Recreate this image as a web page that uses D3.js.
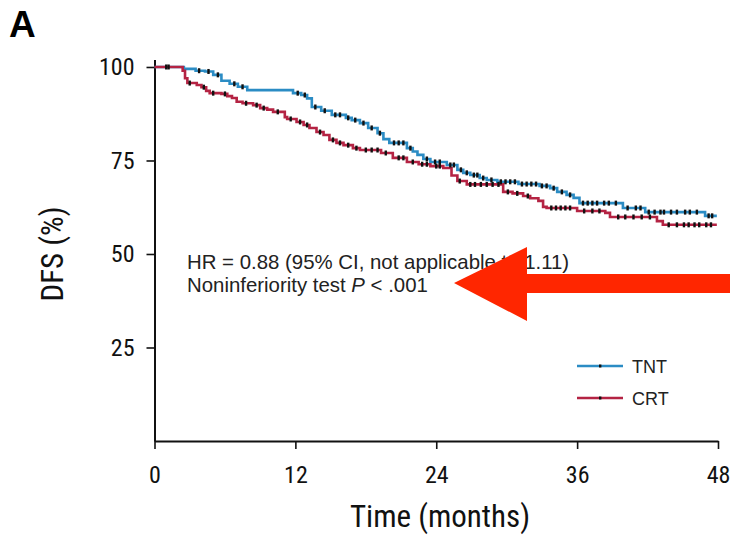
<!DOCTYPE html>
<html>
<head>
<meta charset="utf-8">
<script src="https://cdn.jsdelivr.net/npm/d3@7/dist/d3.min.js"></script>
<style>
  html, body { margin: 0; padding: 0; background: #fff; }
  svg { display: block; }
  .cond { font-family: "Liberation Sans Narrow", "Roboto Condensed", "DejaVu Sans Condensed", sans-serif; }
  .reg { font-family: "Liberation Sans", Arial, Helvetica, sans-serif; }
</style>
</head>
<body>
<svg id="chart" width="730" height="536"></svg>
<script>
// Kaplan–Meier disease-free survival, step points: [month, DFS %] after each event
const tntSteps = [
  [0, 100], [2.5, 99.5], [3.5, 99.0], [4.3, 98.8], [5.0, 97.9], [5.7, 96.3], [6.4, 95.5],
  [7.1, 94.7], [7.9, 93.8], [11.8, 93.0], [12.5, 92.5], [13.0, 91.6], [13.4, 89.3],
  [14.2, 88.3], [15.1, 87.2], [16.3, 86.4], [16.8, 85.8], [17.5, 85.0], [18.2, 83.7],
  [19.0, 82.3], [19.5, 80.7], [20.0, 79.7], [21.5, 78.3], [22.0, 77.4], [22.4, 76.5],
  [22.9, 75.4], [23.5, 74.6], [24.9, 73.8], [25.8, 72.5], [26.3, 71.7], [26.9, 71.1],
  [27.7, 70.3], [28.3, 69.8], [29.2, 69.3], [31.0, 68.7], [32.8, 68.2], [33.7, 67.6],
  [34.3, 66.6], [35.1, 65.8], [35.7, 65.0], [36.2, 63.6], [39.9, 62.3], [41.8, 61.2],
  [46.9, 60.2], [47.9, 60.2]
];
const crtSteps = [
  [0, 100], [2.4, 99.0], [2.6, 97.0], [2.8, 95.7], [3.6, 95.2], [4.0, 94.6], [4.4, 93.6],
  [4.7, 93.0], [5.7, 92.8], [6.2, 92.2], [6.6, 91.7], [7.0, 90.7], [7.5, 90.3], [8.4, 89.8],
  [9.0, 89.0], [9.6, 88.6], [10.1, 88.0], [11.1, 86.6], [11.3, 86.1], [12.1, 85.3],
  [12.7, 84.5], [13.2, 83.7], [13.8, 82.6], [14.4, 81.8], [14.9, 80.5], [15.5, 79.7],
  [16.1, 79.1], [16.9, 78.3], [17.5, 77.8], [19.3, 77.0], [20.3, 75.7], [21.5, 74.6],
  [22.5, 74.0], [23.5, 73.5], [24.6, 73.0], [25.3, 71.0], [25.8, 69.5], [26.6, 68.6],
  [29.7, 66.6], [30.5, 66.2], [31.4, 65.5], [32.0, 64.9], [32.7, 64.2], [33.1, 62.6],
  [33.4, 62.3], [36.0, 61.5], [38.4, 61.0], [38.8, 59.9], [42.8, 58.8], [43.3, 57.8],
  [47.9, 57.8]
];

// Censoring times (months)
const tntCensor = [1.0, 3.8, 4.6, 5.4, 6.8, 7.5, 12.2, 12.8, 13.7, 14.5, 15.4, 15.8, 16.5,
  17.1, 17.8, 18.5, 19.2, 20.4, 20.8, 21.2, 21.8, 23.2, 23.9, 24.3, 25.2, 25.5, 26.1, 26.6,
  27.2, 27.5, 28.0, 28.7, 29.5, 29.9, 30.3, 30.7, 31.3, 31.7, 32.1, 32.5, 33.0, 33.4, 34.0,
  34.7, 35.4, 36.5, 36.9, 37.3, 37.7, 38.3, 38.7, 39.3, 40.3, 41.0, 41.4, 42.1, 42.6, 43.1,
  43.4, 44.0, 44.5, 45.2, 45.6, 46.2, 47.2, 47.5];
const crtCensor = [1.2, 3.0, 4.2, 5.0, 6.0, 7.8, 8.7, 9.3, 10.5, 11.6, 12.4, 13.0, 14.1,
  15.2, 15.8, 16.5, 17.2, 18.0, 18.5, 19.0, 19.7, 20.8, 21.2, 22.0, 22.8, 23.2, 24.0, 24.3,
  26.0, 26.9, 27.3, 27.8, 28.3, 28.8, 29.3, 30.1, 30.9, 31.8, 33.8, 34.2, 34.6, 35.0, 35.4,
  36.6, 37.3, 37.9, 39.5, 40.1, 40.8, 41.5, 42.2, 43.8, 44.5, 45.1, 45.5, 46.0, 46.4, 47.0,
  47.4];

const xTicks = [0, 12, 24, 36, 48];
const yTicks = [25, 50, 75, 100];
const groups = ["TNT", "CRT"];
const colors = { TNT: "#2b8cc4", CRT: "#b42343" };
const panelLabel = "A";
const xTitle = "Time (months)";
const yTitle = "DFS (%)";
const noteLines = ["HR = 0.88 (95% CI, not applicable to 1.11)"];

const svg = d3.select("#chart");
const x = d3.scaleLinear().domain([0, 48]).range([154.5, 718]);
const y = d3.scaleLinear().domain([0, 102]).range([441, 59.5]);

// panel letter
svg.append("text").attr("class", "reg")
  .attr("x", 9).attr("y", 37)
  .attr("font-size", 37).attr("font-weight", "bold").text(panelLabel);

// axes
const xAxis = svg.append("g").attr("transform", `translate(0,${y(0)})`)
  .call(d3.axisBottom(x).tickValues(xTicks).tickSize(8).tickSizeOuter(0).tickPadding(17));
const yAxis = svg.append("g").attr("transform", `translate(${x(0)},0)`)
  .call(d3.axisLeft(y).tickValues(yTicks).tickSize(8).tickSizeOuter(0).tickPadding(12));
[xAxis, yAxis].forEach(g => {
  g.select(".domain").attr("stroke", "#111").attr("stroke-width", 2);
  g.selectAll(".tick line").attr("stroke", "#111").attr("stroke-width", 1.6);
  g.selectAll(".tick text").attr("class", "cond").attr("fill", "#111")
    .attr("font-size", 24).style("font-family", '"Liberation Sans Narrow", "Roboto Condensed", sans-serif');
});
xAxis.selectAll(".tick text").attr("dy", "0.71em");

// axis titles
svg.append("text").attr("class", "cond")
  .attr("x", 440).attr("y", 527).attr("text-anchor", "middle")
  .attr("font-size", 31).attr("fill", "#111").text(xTitle);
svg.append("text").attr("class", "cond")
  .attr("transform", `translate(63,${y(50)}) rotate(-90)`).attr("text-anchor", "middle")
  .attr("font-size", 31).attr("fill", "#111").text(yTitle);

// survival curves
const line = d3.line().x(d => x(d[0])).y(d => y(d[1])).curve(d3.curveStepAfter);
const series = [
  { name: "TNT", steps: tntSteps, censor: tntCensor },
  { name: "CRT", steps: crtSteps, censor: crtCensor }
];
function valueAt(steps, t) {
  let v = steps[0][1];
  for (const s of steps) { if (s[0] <= t) v = s[1]; else break; }
  return v;
}
series.forEach(s => {
  svg.append("path").datum(s.steps)
    .attr("fill", "none").attr("stroke", colors[s.name]).attr("stroke-width", 2.6)
    .attr("d", line);
});
series.forEach(s => {
  svg.append("g").selectAll("rect").data(s.censor).join("rect")
    .attr("x", d => x(d) - 1.2).attr("y", d => y(valueAt(s.steps, d)) - 2.5)
    .attr("width", 2.4).attr("height", 5).attr("fill", "#111");
});

// legend
const leg = svg.append("g");
groups.forEach((g, i) => {
  const ly = 366 + i * 32;
  leg.append("line").attr("x1", 577).attr("x2", 623).attr("y1", ly).attr("y2", ly)
    .attr("stroke", colors[g]).attr("stroke-width", 2.4);
  leg.append("rect").attr("x", 599).attr("y", ly - 1.5).attr("width", 2.4).attr("height", 3).attr("fill", "#111");
  leg.append("text").attr("class", "reg").attr("x", 632).attr("y", ly + 7)
    .attr("font-size", 18).attr("fill", "#222").text(g);
});

// statistics note
const note = svg.append("text").attr("class", "reg").attr("font-size", 20.4).attr("fill", "#222");
note.append("tspan").attr("x", 187).attr("y", 269).text(noteLines[0]);
const l2 = note.append("tspan").attr("x", 187).attr("y", 292);
l2.append("tspan").text("Noninferiority test ");
l2.append("tspan").attr("font-style", "italic").text("P");
l2.append("tspan").text(" < .001");

// red pointer arrow
const arrowPts = [[454, 283], [527, 247], [527, 274], [730, 274], [730, 293], [527, 293], [527, 321]];
svg.append("polygon").attr("points", arrowPts.map(p => p.join(",")).join(" "))
  .attr("fill", "#ff2600");
</script>
</body>
</html>
